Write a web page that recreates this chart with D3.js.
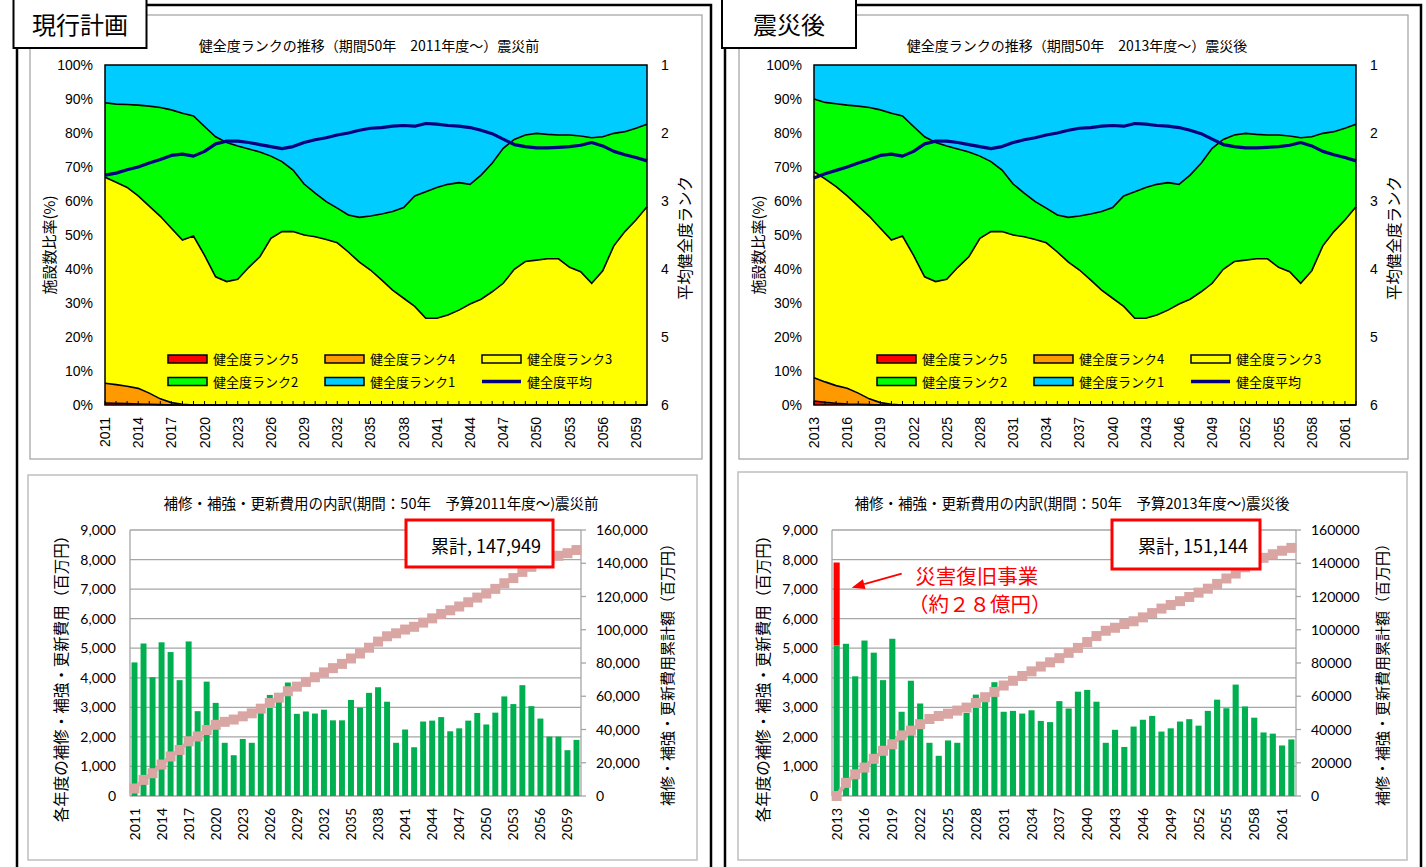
<!DOCTYPE html>
<html>
<head>
<meta charset="utf-8">
<script src="https://cdn.jsdelivr.net/npm/d3@7"></script>
<style>
  body { margin: 0; background: #fff; }
  svg { display: block; }
  .jp { font-family: "Noto Sans CJK JP", "Noto Sans", sans-serif; }
  .narrow { font-family: "Liberation Sans Narrow", "Arial Narrow", "Liberation Sans", sans-serif; }
  .num { font-family: Lato, "Noto Sans", sans-serif; }
</style>
</head>
<body>
<svg id="chart" width="1426" height="867"></svg>
<script>
// ===== 健全度ランクの推移 (shares in % per year) =====
const rankYearsBefore = d3.range(2011, 2061);
const rank5Before = [0.6,0.5,0.4,0.3,0.2,0.1,0,0,0,0, 0,0,0,0,0,0,0,0,0,0, 0,0,0,0,0,0,0,0,0,0, 0,0,0,0,0,0,0,0,0,0, 0,0,0,0,0,0,0,0,0,0];
const rank4Before = [5.8,5.5,5.1,4.6,3.3,1.7,0.7,0.2,0,0, 0,0,0,0,0,0,0,0,0,0, 0,0,0,0,0,0,0,0,0,0, 0,0,0,0,0,0,0,0,0,0, 0,0,0,0,0,0,0,0,0,0];
const rank3Before = [60.6,59.5,58.5,56.6,55.0,53.7,51.3,48.3,49.7,44.0, 37.7,36.3,37.0,40.5,43.6,49.0,51.0,51.0,50.0,49.5,
                     48.7,47.7,45.0,42.0,39.7,36.8,33.8,31.4,29.0,25.5, 25.5,26.5,27.9,29.7,31.1,33.3,35.8,39.9,42.2,42.6,
                     43.0,43.0,40.5,39.2,35.8,39.5,46.8,51.0,54.4,58.3];
const rank2Before = [21.9,23.0,24.4,26.7,29.4,32.0,34.8,37.3,35.3,37.9, 41.2,40.9,39.2,34.8,30.8,24.2,20.6,18.1,15.0,12.8,
                     11.1,10.2,10.9,13.2,15.9,19.4,23.1,26.7,32.5,37.2, 38.5,38.4,37.5,35.2,36.5,37.8,39.7,38.2,37.2,37.3,
                     36.6,36.4,38.9,39.9,42.8,39.4,33.1,29.4,27.0,24.3];
const rank1Before = [11.1,11.5,11.6,11.8,12.1,12.5,13.2,14.2,15.0,18.1, 21.1,22.8,23.8,24.7,25.6,26.8,28.4,30.9,35.0,37.7,
                     40.2,42.1,44.1,44.8,44.4,43.8,43.1,41.9,38.5,37.3, 36.0,35.1,34.6,35.1,32.4,28.9,24.5,21.9,20.6,20.1,
                     20.4,20.6,20.6,20.9,21.4,21.1,20.1,19.6,18.6,17.4];
const avgRankBefore = [2.62,2.59,2.54,2.50,2.44,2.39,2.33,2.31,2.34,2.27, 2.16,2.12,2.12,2.14,2.17,2.20,2.23,2.20,2.14,2.10,
                       2.07,2.03,2.00,1.96,1.93,1.92,1.90,1.89,1.90,1.86, 1.87,1.89,1.90,1.92,1.96,2.01,2.09,2.17,2.20,2.22,
                       2.22,2.21,2.20,2.18,2.14,2.19,2.27,2.32,2.36,2.41];

const rankYearsAfter = d3.range(2013, 2063);
const rank5After = [1.2,0.8,0.5,0.3,0.2,0.1,0,0,0,0, 0,0,0,0,0,0,0,0,0,0, 0,0,0,0,0,0,0,0,0,0, 0,0,0,0,0,0,0,0,0,0, 0,0,0,0,0,0,0,0,0,0];
const rank4After = [6.8,6.0,5.2,4.6,3.3,1.7,0.7,0.2,0,0, 0,0,0,0,0,0,0,0,0,0, 0,0,0,0,0,0,0,0,0,0, 0,0,0,0,0,0,0,0,0,0, 0,0,0,0,0,0,0,0,0,0];
const rank3After = [60.6,59.7,58.5,56.6,55.0,53.7,51.3,48.3,49.7,44.0, 37.7,36.3,37.0,40.5,43.6,49.0,51.0,51.0,50.0,49.5,
                    48.7,47.7,45.0,42.0,39.7,36.8,33.8,31.4,29.0,25.5, 25.5,26.5,27.9,29.7,31.1,33.3,35.8,39.9,42.2,42.6,
                    43.0,43.0,40.5,39.2,35.8,39.5,46.8,51.0,54.4,58.3];
const rank2After = [21.4,22.5,24.4,26.7,29.4,32.0,34.8,37.3,35.3,37.9, 41.2,40.9,39.2,34.8,30.8,24.2,20.6,18.1,15.0,12.8,
                    11.1,10.2,10.9,13.2,15.9,19.4,23.1,26.7,32.5,37.2, 38.5,38.4,37.5,35.2,36.5,37.8,39.7,38.2,37.2,37.3,
                    36.6,36.4,38.9,39.9,42.8,39.4,33.1,29.4,27.0,24.3];
const rank1After = [10.0,11.0,11.4,11.8,12.1,12.5,13.2,14.2,15.0,18.1, 21.1,22.8,23.8,24.7,25.6,26.8,28.4,30.9,35.0,37.7,
                    40.2,42.1,44.1,44.8,44.4,43.8,43.1,41.9,38.5,37.3, 36.0,35.1,34.6,35.1,32.4,28.9,24.5,21.9,20.6,20.1,
                    20.4,20.6,20.6,20.9,21.4,21.1,20.1,19.6,18.6,17.4];
const avgRankAfter = [2.66,2.60,2.55,2.50,2.44,2.39,2.33,2.31,2.34,2.27, 2.16,2.12,2.12,2.14,2.17,2.20,2.23,2.20,2.14,2.10,
                      2.07,2.03,2.00,1.96,1.93,1.92,1.90,1.89,1.90,1.86, 1.87,1.89,1.90,1.92,1.96,2.01,2.09,2.17,2.20,2.22,
                      2.22,2.21,2.20,2.18,2.14,2.19,2.27,2.32,2.36,2.41];

const rankKeys = ["r5", "r4", "r3", "r2", "r1"];
const rankColors = { r5: "#ff0000", r4: "#ff9900", r3: "#ffff00", r2: "#00ff00", r1: "#00ccff" };
const rankNames = { r5: "健全度ランク5", r4: "健全度ランク4", r3: "健全度ランク3", r2: "健全度ランク2", r1: "健全度ランク1" };
const avgName = "健全度平均";
const pctTicks = d3.range(0, 101, 10);
const rankTicks = [1, 2, 3, 4, 5, 6];

// ===== 補修・補強・更新費用 (百万円 per year) =====
const costYearsBefore = d3.range(2011, 2061);
const costBefore = [4520,5160,4020,5200,4870,3920,5230,2870,3870,3150, 1800,1380,1930,1800,2810,3420,3210,3840,2780,2860,
                    2790,2920,2560,2560,3250,2990,3490,3680,3190,1800, 2250,1650,2520,2550,2670,2190,2290,2550,2810,2420,
                    2820,3370,3110,3750,3040,2620,2010,2010,1550,1899];
const costYearsAfter = d3.range(2013, 2063);
const costAfter = [5100,5150,4050,5260,4850,3920,5320,2850,3900,3130, 1800,1360,1880,1800,2810,3430,3190,3850,2850,2880,
                   2790,2900,2540,2500,3210,2960,3530,3590,3190,1800, 2240,1660,2350,2580,2710,2180,2290,2520,2600,2380,
                   2880,3260,2970,3770,3030,2650,2150,2110,1710,1914];
const disasterYear = 2013;
const disasterCost = 2800;
const costTicks = d3.range(0, 9001, 1000);
const cumTicks = d3.range(0, 160001, 20000);

const svg = d3.select("#chart");

// ===== outer panels =====
function panelFrame(x0, x1) {
  svg.append("path")
    .attr("d", `M${x0},870 V5 H${x1} V870`)
    .attr("fill", "none").attr("stroke", "#000").attr("stroke-width", 2.5);
}
function panelLabel(label, labelX0, labelX1) {
  svg.append("rect").attr("x", labelX0).attr("y", -3).attr("width", labelX1 - labelX0).attr("height", 51)
    .attr("fill", "#fff").attr("stroke", "#000").attr("stroke-width", 2);
  svg.append("text").attr("class", "jp").attr("x", (labelX0 + labelX1) / 2).attr("y", 34)
    .attr("text-anchor", "middle").attr("font-size", 24).text(label);
}

// ===== stacked-area rank chart =====
function rankChart(cfg) {
  const g = svg.append("g");
  g.append("rect").attr("x", cfg.frame[0]).attr("y", cfg.frame[1]).attr("width", cfg.frame[2]).attr("height", cfg.frame[3])
    .attr("fill", "#fff").attr("stroke", "#a0a0a0").attr("stroke-width", 1.2);

  const x = d3.scalePoint().domain(cfg.years).range([cfg.left, cfg.right]);
  const y = d3.scaleLinear().domain([0, 100]).range([cfg.bottom, cfg.top]);
  const yr = d3.scaleLinear().domain([1, 6]).range([cfg.top, cfg.bottom]);

  const rows = cfg.years.map((yv, i) => ({ year: yv, r5: cfg.r5[i], r4: cfg.r4[i], r3: cfg.r3[i], r2: cfg.r2[i], r1: cfg.r1[i] }));
  const series = d3.stack().keys(rankKeys)(rows);
  const area = d3.area().x(d => x(d.data.year)).y0(d => y(d[0])).y1(d => y(d[1]));
  const topLine = d3.line().x(d => x(d.data.year)).y(d => y(d[1]));

  g.selectAll(".layer").data(series).join("path")
    .attr("d", area).attr("fill", s => rankColors[s.key]);
  g.selectAll(".edge").data(series.slice(0, 4)).join("path")
    .attr("d", topLine).attr("fill", "none").attr("stroke", "#000").attr("stroke-width", 1.6);

  // average rank line
  const avgLine = d3.line().x((d, i) => x(cfg.years[i])).y(d => yr(d));
  g.append("path").datum(cfg.avg).attr("d", avgLine)
    .attr("fill", "none").attr("stroke", "#000080").attr("stroke-width", 3.2).attr("stroke-linejoin", "round");

  // plot frame
  g.append("rect").attr("x", cfg.left).attr("y", cfg.top).attr("width", cfg.right - cfg.left).attr("height", cfg.bottom - cfg.top)
    .attr("fill", "none").attr("stroke", "#000").attr("stroke-width", 1.5);

  // bottom axis: inner ticks every year, labels every 3 years
  g.selectAll(".xt").data(cfg.years).join("line")
    .attr("x1", d => x(d)).attr("x2", d => x(d)).attr("y1", cfg.bottom).attr("y2", cfg.bottom - 4)
    .attr("stroke", "#000").attr("stroke-width", 1);
  g.selectAll(".xl").data(cfg.years.filter((d, i) => i % 3 === 0)).join("text")
    .attr("class", "narrow").attr("font-size", 14).attr("text-anchor", "end")
    .attr("transform", d => `translate(${x(d) + 5},${cfg.bottom + 12}) rotate(-90)`)
    .text(d => d);

  // left % axis
  g.selectAll(".yl").data(pctTicks).join("text")
    .attr("class", "narrow").attr("font-size", 14).attr("text-anchor", "end")
    .attr("x", cfg.left - 12).attr("y", d => y(d) + 5).text(d => d + "%");
  // right rank axis
  g.selectAll(".rl").data(rankTicks).join("text")
    .attr("class", "narrow").attr("font-size", 14).attr("text-anchor", "start")
    .attr("x", cfg.right + 14).attr("y", d => yr(d) + 5).text(d => d);

  // titles
  g.append("text").attr("class", "jp").attr("font-size", 14).attr("text-anchor", "middle")
    .attr("x", cfg.titleX).attr("y", 51).text(cfg.title);
  g.append("text").attr("class", "jp").attr("font-size", 15).attr("text-anchor", "middle")
    .attr("transform", `translate(${cfg.left - 50},${(cfg.top + cfg.bottom) / 2 + 10}) rotate(-90)`)
    .text("施設数比率(%)");
  g.append("text").attr("class", "jp").attr("font-size", 15.5).attr("text-anchor", "middle")
    .attr("transform", `translate(${cfg.right + 44},${(cfg.top + cfg.bottom) / 2 + 3}) rotate(-90)`)
    .text("平均健全度ランク");

  // legend (2 rows x 3 columns)
  const legendItems = [["r5", 0, 0], ["r4", 1, 0], ["r3", 2, 0], ["r2", 0, 1], ["r1", 1, 1], ["avg", 2, 1]];
  legendItems.forEach(([k, col, row]) => {
    const lx = cfg.left + 63 + col * 157, ly = cfg.top + 294 + row * 22.5;
    if (k === "avg") {
      g.append("line").attr("x1", lx).attr("x2", lx + 39).attr("y1", ly).attr("y2", ly)
        .attr("stroke", "#000080").attr("stroke-width", 3.5);
    } else {
      g.append("rect").attr("x", lx).attr("y", ly - 4).attr("width", 39).attr("height", 8)
        .attr("fill", rankColors[k]).attr("stroke", "#000").attr("stroke-width", 1.5);
    }
    g.append("text").attr("class", "jp").attr("font-size", 13).attr("x", lx + 45).attr("y", ly + 5)
      .text(k === "avg" ? avgName : rankNames[k]);
  });
}

// ===== cost bar chart with cumulative line =====
function costChart(cfg) {
  const g = svg.append("g");
  g.append("rect").attr("x", cfg.frame[0]).attr("y", cfg.frame[1]).attr("width", cfg.frame[2]).attr("height", cfg.frame[3])
    .attr("fill", "#fff").attr("stroke", "#bfbfbf").attr("stroke-width", 1.5);

  const x = d3.scaleBand().domain(cfg.years).range([cfg.left, cfg.right]).paddingInner(0.34).paddingOuter(0.17);
  const y = d3.scaleLinear().domain([0, 9000]).range([cfg.bottom, cfg.top]);
  const y2 = d3.scaleLinear().domain([0, 160000]).range([cfg.bottom, cfg.top]);

  // gridlines
  g.selectAll(".grid").data(costTicks).join("line")
    .attr("x1", cfg.left).attr("x2", cfg.right).attr("y1", d => y(d)).attr("y2", d => y(d))
    .attr("stroke", "#a6a6a6").attr("stroke-width", 1.3);
  g.append("line").attr("x1", cfg.left).attr("x2", cfg.left).attr("y1", cfg.top).attr("y2", cfg.bottom)
    .attr("stroke", "#a6a6a6").attr("stroke-width", 1.3);
  g.append("line").attr("x1", cfg.right).attr("x2", cfg.right).attr("y1", cfg.top).attr("y2", cfg.bottom)
    .attr("stroke", "#a6a6a6").attr("stroke-width", 1.3);
  g.selectAll(".rt").data(cumTicks).join("line")
    .attr("x1", cfg.right).attr("x2", cfg.right + 5).attr("y1", d => y2(d)).attr("y2", d => y2(d))
    .attr("stroke", "#a6a6a6").attr("stroke-width", 1.3);

  // yearly bars
  g.selectAll(".bar").data(cfg.values).join("rect")
    .attr("x", (d, i) => x(cfg.years[i])).attr("width", x.bandwidth())
    .attr("y", d => y(d)).attr("height", d => y(0) - y(d))
    .attr("fill", "#00b050");
  if (cfg.extra) {
    const i = cfg.years.indexOf(cfg.extra.year);
    const base = cfg.values[i];
    g.append("rect").attr("x", x(cfg.extra.year)).attr("width", x.bandwidth())
      .attr("y", y(base + cfg.extra.value)).attr("height", y(base) - y(base + cfg.extra.value))
      .attr("fill", "#ff0000");
  }

  // cumulative total (either through the end of each year, or up to its start)
  const yearly = cfg.values.map((v, i) => v + (cfg.extra && cfg.years[i] === cfg.extra.year ? cfg.extra.value : 0));
  const running = Array.from(d3.cumsum(yearly));
  const total = running[running.length - 1];
  const cum = cfg.cumAtYearStart ? [0, ...running.slice(0, -1)] : running;
  const cx = i => x(cfg.years[i]) + x.bandwidth() / 2;
  const cumColor = "#d9a6a4";
  g.append("path").datum(cum)
    .attr("d", d3.line().x((d, i) => cx(i)).y(d => y2(d)))
    .attr("fill", "none").attr("stroke", cumColor).attr("stroke-width", 4);
  g.selectAll(".mk").data(cum).join("rect")
    .attr("x", (d, i) => cx(i) - 5).attr("y", d => y2(d) - 5).attr("width", 10).attr("height", 10)
    .attr("fill", cumColor);

  // axes labels
  g.selectAll(".yl").data(costTicks).join("text")
    .attr("class", "num").attr("font-size", 14).attr("text-anchor", "end")
    .attr("x", cfg.left - 14).attr("y", d => y(d) + 5).text(d3.format(","));
  g.selectAll(".y2l").data(cumTicks).join("text")
    .attr("class", "num").attr("font-size", 14).attr("text-anchor", "start")
    .attr("x", cfg.right + 15).attr("y", d => y2(d) + 5).text(cfg.cumFormat);
  g.selectAll(".xl").data(cfg.years.filter((d, i) => i % 3 === 0)).join("text")
    .attr("class", "num").attr("font-size", 14).attr("text-anchor", "end")
    .attr("transform", d => `translate(${x(d) + x.bandwidth() / 2 + 5},${cfg.bottom + 12}) rotate(-90)`)
    .text(d => d);

  g.append("text").attr("class", "jp").attr("font-size", 14.5).attr("text-anchor", "middle")
    .attr("x", cfg.titleX).attr("y", 509).text(cfg.title);
  g.append("text").attr("class", "jp").attr("font-size", 15.5).attr("text-anchor", "middle")
    .attr("transform", `translate(${cfg.left - 63},${675}) rotate(-90)`)
    .text("各年度の補修・補強・更新費用（百万円）");
  g.append("text").attr("class", "jp").attr("font-size", 15).attr("text-anchor", "middle")
    .attr("transform", `translate(${cfg.right + 92},${671}) rotate(-90)`)
    .text("補修・補強・更新費用累計額（百万円）");

  // total callout
  g.append("rect").attr("x", cfg.box[0]).attr("y", cfg.box[1]).attr("width", cfg.box[2]).attr("height", cfg.box[3])
    .attr("fill", "#fff").attr("stroke", "#ff0000").attr("stroke-width", 3);
  g.append("text").attr("class", "jp").attr("font-size", 18).attr("text-anchor", "end")
    .attr("x", cfg.box[0] + cfg.box[2] - 12).attr("y", cfg.box[1] + 33)
    .text("累計, " + d3.format(",")(total));

  // disaster recovery annotation
  if (cfg.extra) {
    const tipX = x(cfg.extra.year) + x.bandwidth() + 12, tipY = y(7050);
    const tailX = tipX + 50, tailY = tipY - 14;
    const ang = Math.atan2(tipY - tailY, tipX - tailX);
    const hl = 13, hw = 5;
    const bx = tipX - hl * Math.cos(ang), by = tipY - hl * Math.sin(ang);
    g.append("line").attr("x1", tailX).attr("y1", tailY).attr("x2", bx).attr("y2", by)
      .attr("stroke", "#ff0000").attr("stroke-width", 2);
    g.append("polygon").attr("fill", "#ff0000").attr("points", [
      [tipX, tipY],
      [bx + hw * Math.sin(ang), by - hw * Math.cos(ang)],
      [bx - hw * Math.sin(ang), by + hw * Math.cos(ang)]
    ].map(p => p.join(",")).join(" "));
    g.append("text").attr("class", "jp").attr("font-size", 20.5).attr("fill", "#ff0000").attr("text-anchor", "middle")
      .attr("x", tipX + 125).attr("y", tipY - 4).text("災害復旧事業");
    g.append("text").attr("class", "jp").attr("font-size", 20.5).attr("fill", "#ff0000").attr("text-anchor", "middle")
      .attr("x", tipX + 128).attr("y", tipY + 24).text("（約２８億円）");
  }
}

// ===== draw =====
panelFrame(17, 711);
panelFrame(725, 1421);

rankChart({
  frame: [30, 15, 672, 444], left: 105, right: 647, top: 65, bottom: 405,
  years: rankYearsBefore, r5: rank5Before, r4: rank4Before, r3: rank3Before, r2: rank2Before, r1: rank1Before,
  avg: avgRankBefore, titleX: 369, title: "健全度ランクの推移（期間50年　2011年度～）震災前"
});
rankChart({
  frame: [739, 15, 669, 444], left: 814, right: 1356, top: 65, bottom: 405,
  years: rankYearsAfter, r5: rank5After, r4: rank4After, r3: rank3After, r2: rank2After, r1: rank1After,
  avg: avgRankAfter, titleX: 1077, title: "健全度ランクの推移（期間50年　2013年度～）震災後"
});

costChart({
  frame: [28, 475, 669, 385], left: 130, right: 581, top: 530, bottom: 796,
  years: costYearsBefore, values: costBefore, cumFormat: d3.format(","),
  titleX: 381, title: "補修・補強・更新費用の内訳(期間：50年　予算2011年度～)震災前",
  box: [406, 520, 147, 47]
});
costChart({
  frame: [738, 472, 669, 388], left: 832, right: 1296, top: 530, bottom: 796,
  years: costYearsAfter, values: costAfter, cumFormat: d3.format("d"), cumAtYearStart: true,
  extra: { year: disasterYear, value: disasterCost },
  titleX: 1072, title: "補修・補強・更新費用の内訳(期間：50年　予算2013年度～)震災後",
  box: [1112, 520, 148, 49]
});

panelLabel("現行計画", 13.5, 146.5);
panelLabel("震災後", 722, 856);
</script>
</body>
</html>
